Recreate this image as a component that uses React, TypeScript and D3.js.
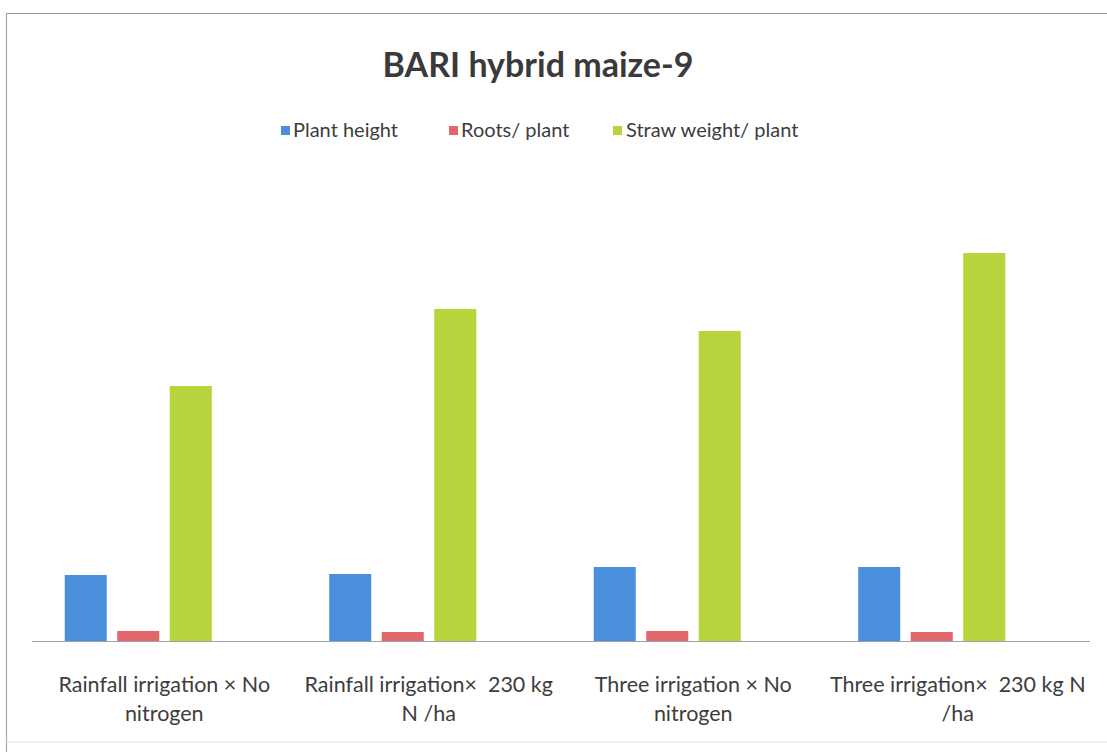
import React from "react";
import * as d3 from "d3";

const categories = [
  ["Rainfall irrigation × No", "nitrogen"],
  ["Rainfall irrigation×  230 kg", "N /ha"],
  ["Three irrigation × No", "nitrogen"],
  ["Three irrigation×  230 kg N", "/ha"],
];
const seriesNames = ["Plant height", "Roots/ plant", "Straw weight/ plant"];
const plantHeight = [198, 201, 222, 222];
const rootsPerPlant = [30, 27, 30, 27];
const strawWeight = [765, 996, 930, 1164];
const colors = ["#4a8fdc", "#e2676b", "#b6d43c"];

const W = 1107;
const H = 752;

export default function App() {
  const seriesValues = [plantHeight, rootsPerPlant, strawWeight];
  const catIdx = categories.map((_, i) => String(i));
  const baseline = 641;

  const y = d3.scaleLinear().domain([0, 1200]).range([baseline, 241]);
  // axis/labels band
  const xAxis = d3.scaleBand().domain(catIdx).range([32, 1090]);
  // bar clusters (offset in original)
  const x0 = d3
    .scaleBand()
    .domain(catIdx)
    .range([6, 1064])
    .paddingInner(0.444)
    .paddingOuter(0.222);
  const x1 = d3
    .scaleBand()
    .domain(seriesNames)
    .range([0, x0.bandwidth()])
    .paddingInner(0.2);

  const font = "Lato, 'Open Sans', sans-serif";
  const textColor = "#3d3d3d";

  // legend layout
  const legendItems = [
    { name: seriesNames[0], x: 281, tx: 293 },
    { name: seriesNames[1], x: 449, tx: 461 },
    { name: seriesNames[2], x: 613, tx: 626 },
  ];

  return (
    <svg
      width={W}
      height={H}
      style={{ position: "absolute", left: 0, top: 0, background: "#fff" }}
    >
      <rect x={0} y={0} width={W} height={H} fill="#fff" />
      {/* border */}
      <line x1={6} x2={W} y1={13.5} y2={13.5} stroke="#9a9aa2" strokeWidth={1.2} />
      <line x1={6.5} x2={6.5} y1={13} y2={H} stroke="#a8a8ae" strokeWidth={1.2} />
      <line x1={6} x2={W} y1={742} y2={742} stroke="#e4e4e8" strokeWidth={1} />

      {/* title */}
      <text
        x={538}
        y={77}
        textAnchor="middle"
        fontFamily={font}
        fontWeight="bold"
        fontSize={34}
        fill="#3a3a3a"
      >
        BARI hybrid maize-9
      </text>

      {/* legend */}
      {legendItems.map((d, i) => (
        <g key={d.name}>
          <rect x={d.x} y={126} width={9} height={9} fill={colors[i]} />
          <text
            x={d.tx}
            y={137}
            fontFamily={font}
            fontSize={20}
            fill={textColor}
          >
            {d.name}
          </text>
        </g>
      ))}

      {/* bars */}
      {catIdx.map((c, ci) => (
        <g key={c} transform={`translate(${x0(c)},0)`}>
          {seriesNames.map((s, si) => {
            const v = seriesValues[si][ci];
            return (
              <rect
                key={s}
                x={x1(s)}
                y={y(v)}
                width={x1.bandwidth()}
                height={baseline - y(v)}
                fill={colors[si]}
              />
            );
          })}
        </g>
      ))}

      {/* axis line */}
      <line
        x1={xAxis.range()[0]}
        x2={xAxis.range()[1]}
        y1={baseline + 0.5}
        y2={baseline + 0.5}
        stroke="#a0a0a8"
        strokeWidth={1}
      />

      {/* category labels */}
      {categories.map((lines, i) => {
        const cx = (xAxis(String(i)) as number) + xAxis.bandwidth() / 2;
        return (
          <text
            key={i}
            textAnchor="middle"
            fontFamily={font}
            fontSize={21.5}
            fill={textColor}
          >
            {lines.map((l, li) => (
              <tspan key={li} x={cx} y={692 + li * 29} style={{ whiteSpace: "pre" }}>
                {l}
              </tspan>
            ))}
          </text>
        );
      })}
    </svg>
  );
}
